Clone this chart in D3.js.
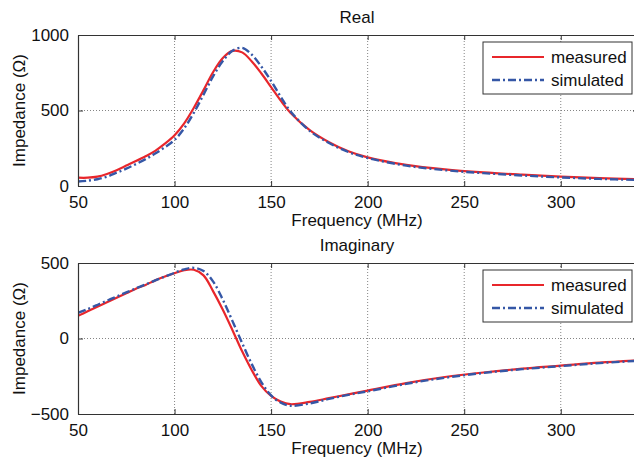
<!DOCTYPE html>
<html>
<head>
<meta charset="utf-8">
<script src="https://cdn.jsdelivr.net/npm/d3@7"></script>
<style>
  body { margin: 0; background: #fff; }
  svg text { font-family: "Liberation Sans", Arial, sans-serif; fill: #111; }
</style>
</head>
<body>
<svg id="chart" width="634" height="464"></svg>
<script>
// frequency points (MHz)
var freq = [50,55,60,65,70,75,80,85,90,95,100,105,110,115,120,125,130,135,140,145,150,155,160,170,180,190,200,220,240,260,280,300,320,340];

var realMeasured = [55,55,62,80,105,135,165,197,233,280,336,415,518,635,755,848,895,885,825,745,655,565,485,370,290,230,190,140,110,90,75,62,52,45];
var realSimulated = [30,35,45,62,88,115,145,178,215,257,305,382,485,605,727,828,895,915,870,790,695,590,495,365,285,225,185,135,105,85,70,57,47,40];

var imagMeasured = [150,180,210,240,270,300,330,355,385,410,432,452,455,418,312,190,55,-85,-210,-315,-380,-418,-435,-420,-395,-370,-345,-295,-255,-225,-200,-180,-160,-145];
var imagSimulated = [170,195,222,250,278,305,332,358,385,410,435,458,468,447,377,257,115,-30,-170,-290,-377,-425,-445,-430,-400,-373,-350,-300,-260,-228,-203,-183,-163,-148];

var xTicks = [50,100,150,200,250,300];
var legendNames = ["measured", "simulated"];

var panels = [
  { title: "Real", top: 35, bottom: 186, domain: [0, 1000], yTicks: [0, 500, 1000],
    series: [realMeasured, realSimulated] },
  { title: "Imaginary", top: 263, bottom: 414, domain: [-500, 500], yTicks: [-500, 0, 500],
    series: [imagMeasured, imagSimulated] }
];

var svg = d3.select("#chart");
var left = 78, right = 638;
var styles = [
  { color: "#e8262b", width: 2.2, dash: null },
  { color: "#3557a6", width: 2.4, dash: "8,3,2,3" }
];

var x = d3.scaleLinear().domain([50, 340]).range([left, right]);

panels.forEach(function(p, pi) {
  var y = d3.scaleLinear().domain(p.domain).range([p.bottom, p.top]);
  var g = svg.append("g");

  g.append("clipPath").attr("id", "clip" + pi)
    .append("rect").attr("x", left).attr("y", p.top)
    .attr("width", right - left).attr("height", p.bottom - p.top);

  // grid
  g.selectAll(".vg").data(xTicks.slice(1)).enter().append("line")
    .attr("x1", d => x(d)).attr("x2", d => x(d))
    .attr("y1", p.top).attr("y2", p.bottom)
    .attr("stroke", "#666").attr("stroke-width", 0.8).attr("stroke-dasharray", "1,2");
  g.selectAll(".hg").data(p.yTicks.slice(1, -1)).enter().append("line")
    .attr("x1", left).attr("x2", right)
    .attr("y1", d => y(d)).attr("y2", d => y(d))
    .attr("stroke", "#666").attr("stroke-width", 0.8).attr("stroke-dasharray", "1,2");

  // curves
  var line = d3.line().curve(d3.curveCatmullRom)
    .x((d, i) => x(freq[i])).y(d => y(d));
  p.series.forEach(function(s, si) {
    g.append("path").datum(s)
      .attr("clip-path", "url(#clip" + pi + ")")
      .attr("d", line)
      .attr("fill", "none")
      .attr("stroke", styles[si].color)
      .attr("stroke-width", styles[si].width)
      .attr("stroke-dasharray", styles[si].dash);
  });

  // axes (MATLAB style, ticks inward on all sides)
  var xb = g.append("g").attr("transform", "translate(0," + p.bottom + ")")
    .call(d3.axisBottom(x).tickValues(xTicks).tickSizeInner(-5).tickSizeOuter(0).tickPadding(10));
  var xt = g.append("g").attr("transform", "translate(0," + p.top + ")")
    .call(d3.axisTop(x).tickValues(xTicks).tickSizeInner(-5).tickSizeOuter(0).tickFormat(""));
  var yl = g.append("g").attr("transform", "translate(" + left + ",0)")
    .call(d3.axisLeft(y).tickValues(p.yTicks).tickSizeInner(-5).tickSizeOuter(0).tickPadding(9)
      .tickFormat(d => d < 0 ? "\u2212" + Math.abs(d) : d));
  var yr = g.append("g").attr("transform", "translate(" + right + ",0)")
    .call(d3.axisRight(y).tickValues(p.yTicks).tickSizeInner(-5).tickSizeOuter(0).tickFormat(""));
  [xb, xt, yl, yr].forEach(function(a) {
    a.select(".domain").attr("stroke", "#333").attr("stroke-width", 1.2);
    a.selectAll(".tick line").attr("stroke", "#333");
    a.selectAll("text").attr("font-size", 17).attr("fill", "#111")
      .style("font-family", "'Liberation Sans', Arial, sans-serif");
  });

  // titles and labels
  g.append("text").attr("x", 357).attr("y", p.top - 12)
    .attr("text-anchor", "middle").attr("font-size", 17).text(p.title);
  g.append("text").attr("x", 357).attr("y", p.bottom + 40)
    .attr("text-anchor", "middle").attr("font-size", 17).text("Frequency (MHz)");
  g.append("text")
    .attr("transform", "translate(25," + ((p.top + p.bottom) / 2) + ") rotate(-90)")
    .attr("text-anchor", "middle").attr("font-size", 17).text("Impedance (\u03a9)");

  // legend
  var lg = g.append("g").attr("transform", "translate(483," + (p.top + 7) + ")");
  lg.append("rect").attr("width", 149).attr("height", 52)
    .attr("fill", "#fff").attr("stroke", "#333").attr("stroke-width", 1);
  legendNames.forEach(function(name, i) {
    var ly = 15 + i * 23;
    lg.append("line").attr("x1", 9).attr("x2", 61).attr("y1", ly).attr("y2", ly)
      .attr("stroke", styles[i].color).attr("stroke-width", styles[i].width)
      .attr("stroke-dasharray", styles[i].dash);
    lg.append("text").attr("x", 68).attr("y", ly + 6).attr("font-size", 17).text(name);
  });
});
</script>
</body>
</html>
